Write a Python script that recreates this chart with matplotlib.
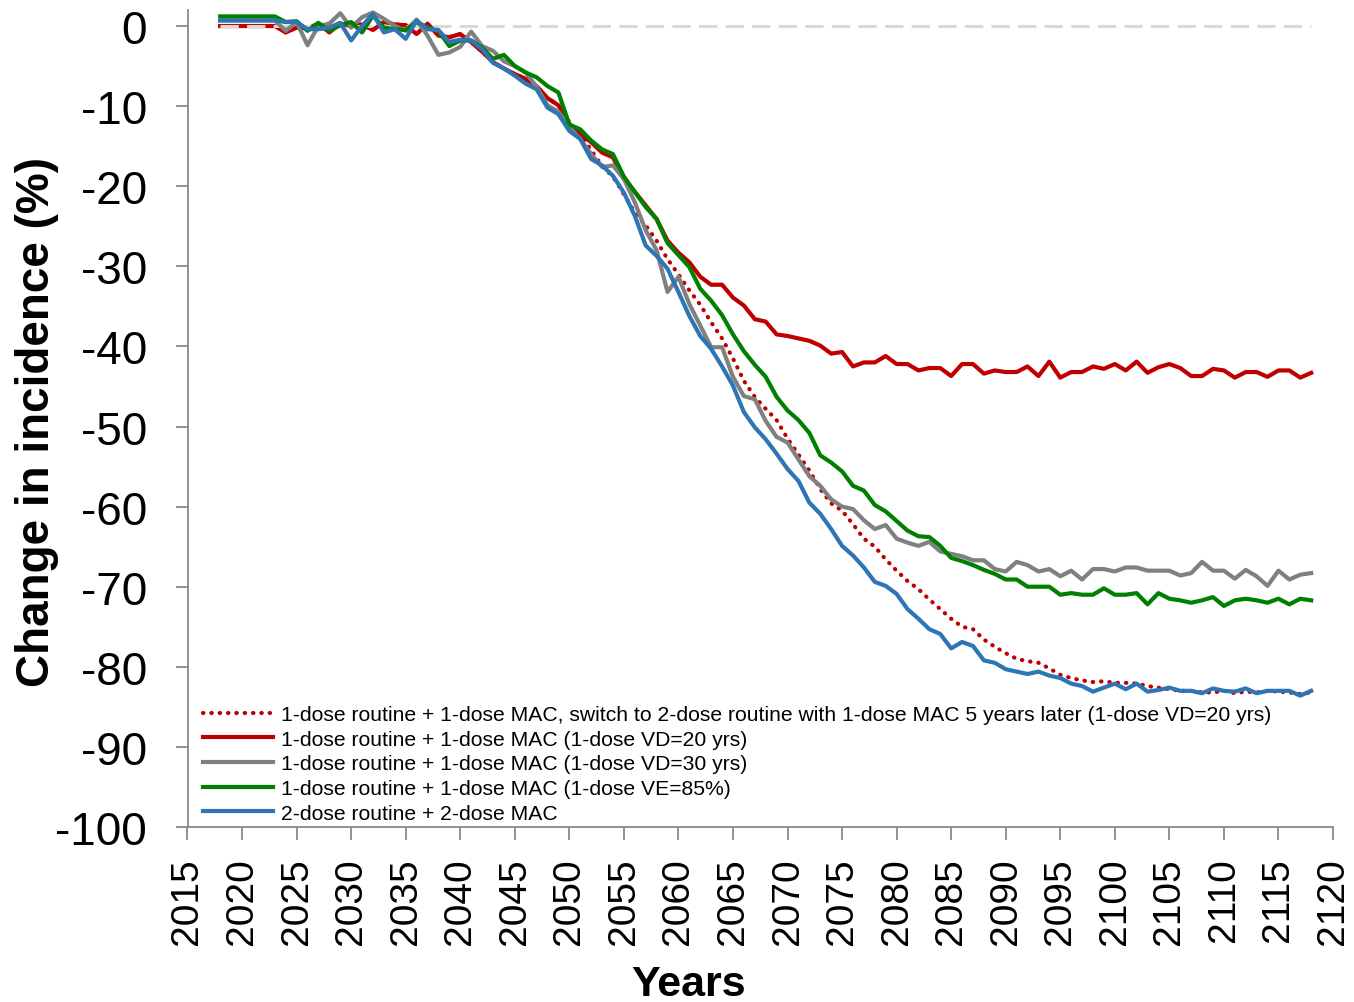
import matplotlib
matplotlib.use('Agg')
import matplotlib.pyplot as plt

plt.rcParams['axes.unicode_minus'] = False

years = list(range(2018, 2119))

# 1-dose routine + 1-dose MAC, switch to 2-dose 5 yrs later (dotted red)
switch_vals = [
    0.0, 0.0, 0.0, 0.0, 0.0, 0.0, -0.8, -0.2, -0.3, 0.3,
    -0.8, 0.3, 0.0, 0.2, -0.5, 0.5, 0.2, 0.1, -1.0, 0.3,
    -1.2, -1.4, -1.0, -2.0, -3.2, -4.5, -5.3, -6.0, -6.6, -7.5,
    -9.0, -9.9, -12.0, -13.5, -15.5, -17.5, -18.8, -21.0, -23.3, -24.9,
    -26.8, -29.1, -31.0, -33.0, -34.8, -37.0, -39.0, -41.5, -44.3, -46.3,
    -47.8, -49.2, -51.5, -53.5, -55.5, -57.8, -59.6, -60.5, -62.2, -64.0,
    -65.0, -66.6, -68.0, -69.3, -70.3, -71.6, -72.8, -74.0, -75.0, -75.3,
    -76.6, -77.5, -78.3, -79.0, -79.3, -79.5, -80.2, -81.0, -81.4, -81.7,
    -81.9, -81.8, -82.0, -82.0, -82.1, -82.4, -82.6, -82.8, -83.0, -83.0,
    -83.2, -83.2, -83.0, -83.3, -83.1, -83.2, -83.0, -83.1, -83.2, -83.4,
    -83.2]

# 1-dose VD=20 yrs (red)
vd20_vals = [
    0.0, 0.0, 0.0, 0.0, 0.0, 0.0, -0.8, -0.2, -0.3, 0.3,
    -0.8, 0.3, 0.0, 0.2, -0.5, 0.5, 0.2, 0.1, -1.0, 0.3,
    -1.2, -1.4, -1.0, -2.0, -3.2, -4.5, -5.3, -6.0, -6.6, -7.5,
    -9.0, -9.9, -12.2, -13.5, -14.5, -15.8, -16.4, -19.1, -20.7, -22.4,
    -24.1, -26.8, -28.3, -29.5, -31.3, -32.3, -32.3, -33.9, -34.9, -36.6,
    -36.9, -38.5, -38.7, -39.0, -39.3, -39.9, -40.9, -40.7, -42.5, -42.0,
    -42.0, -41.2, -42.2, -42.2, -43.0, -42.7, -42.7, -43.7, -42.2, -42.2,
    -43.4, -43.0, -43.2, -43.2, -42.5, -43.7, -41.9, -43.9, -43.2, -43.2,
    -42.5, -42.8, -42.2, -43.0, -41.9, -43.3, -42.6, -42.2, -42.7, -43.7,
    -43.7, -42.8, -43.0, -43.9, -43.2, -43.2, -43.8, -43.0, -43.0, -43.9,
    -43.3]

# 1-dose VD=30 yrs (gray)
vd30_vals = [
    0.7, 0.7, 0.7, 0.7, 0.7, 0.7, -0.6, 0.5, -2.4, 0.0,
    0.3, 1.6, -0.2, 1.1, 1.7, 0.9, 0.0, -0.6, 0.8, -1.2,
    -3.6, -3.3, -2.6, -0.7, -2.5, -3.1, -4.4, -5.0, -5.8, -7.6,
    -9.9, -10.7, -12.6, -14.1, -16.0, -17.6, -17.4, -19.1, -22.0, -25.5,
    -28.0, -33.2, -31.3, -34.7, -37.4, -40.1, -40.1, -43.8, -46.2, -46.6,
    -49.3, -51.3, -52.0, -54.1, -56.2, -57.4, -59.1, -60.0, -60.3, -61.7,
    -62.8, -62.3, -64.0, -64.5, -64.9, -64.4, -65.6, -65.9, -66.2, -66.7,
    -66.7, -67.8, -68.1, -66.9, -67.3, -68.1, -67.8, -68.7, -68.0, -69.1,
    -67.8, -67.8, -68.1, -67.6, -67.6, -68.0, -68.0, -68.0, -68.6, -68.3,
    -66.9, -68.0, -68.0, -69.0, -67.9, -68.7, -69.9, -68.0, -69.1, -68.5,
    -68.3]

# 1-dose VE=85% (green)
ve85_vals = [
    1.2, 1.2, 1.2, 1.2, 1.2, 1.2, 0.5, 0.6, -0.6, 0.4,
    -0.6, 0.1, 0.5, -0.8, 1.3, -0.2, -0.4, -0.5, 0.5, -0.2,
    -0.6, -2.5, -1.8, -1.8, -2.7, -4.1, -3.6, -5.0, -5.8, -6.4,
    -7.5, -8.3, -12.3, -12.9, -14.3, -15.4, -16.0, -18.8, -20.7, -22.6,
    -24.1, -27.1, -28.6, -30.1, -32.8, -34.3, -36.1, -38.5, -40.6, -42.3,
    -43.8, -46.3, -48.0, -49.2, -50.8, -53.6, -54.5, -55.6, -57.4, -58.0,
    -59.8, -60.6, -61.8, -63.0, -63.7, -63.8, -64.9, -66.4, -66.8, -67.3,
    -67.9, -68.4, -69.1, -69.1, -70.0, -70.0, -70.0, -71.0, -70.8, -71.0,
    -71.0, -70.2, -71.0, -71.0, -70.8, -72.2, -70.8, -71.5, -71.7, -72.0,
    -71.7, -71.3, -72.4, -71.7, -71.5, -71.7, -72.0, -71.5, -72.2, -71.5,
    -71.7]

# 2-dose routine + 2-dose MAC (blue)
two_dose_vals = [
    0.7, 0.7, 0.7, 0.7, 0.7, 0.7, 0.5, 0.5, -0.4, -0.4,
    -0.2, 0.4, -1.8, 0.0, 1.5, -0.8, -0.4, -1.6, 0.7, -0.4,
    -0.5, -2.0, -1.7, -1.8, -2.9, -4.6, -5.3, -6.2, -7.2, -7.9,
    -10.2, -11.0, -13.1, -14.1, -16.6, -17.4, -18.7, -20.8, -23.7, -27.4,
    -28.7, -30.3, -33.2, -36.2, -38.7, -40.3, -42.5, -44.9, -48.2, -50.1,
    -51.6, -53.4, -55.3, -56.8, -59.5, -60.9, -62.8, -64.9, -66.1, -67.6,
    -69.4, -69.9, -70.9, -72.8, -74.0, -75.3, -75.9, -77.7, -76.9, -77.4,
    -79.2, -79.5, -80.3, -80.6, -80.9, -80.6, -81.1, -81.4, -82.1, -82.4,
    -83.1, -82.6, -82.1, -82.8, -82.1, -83.1, -82.9, -82.6, -83.0, -83.0,
    -83.3, -82.7, -83.0, -83.1, -82.7, -83.3, -83.0, -83.0, -83.0, -83.6,
    -83.0]

zero_line = [0.0] * len(years)

labels = ['1-dose routine + 1-dose MAC, switch to 2-dose routine with 1-dose MAC 5 years later (1-dose VD=20 yrs)',
          '1-dose routine + 1-dose MAC (1-dose VD=20 yrs)',
          '1-dose routine + 1-dose MAC (1-dose VD=30 yrs)',
          '1-dose routine + 1-dose MAC (1-dose VE=85%)',
          '2-dose routine + 2-dose MAC']

regular = ['Liberation Sans', 'DejaVu Sans']

W, H = 1354, 1003
fig = plt.figure(figsize=(W / 100, H / 100), dpi=100)
ax = fig.add_axes([187.5 / W, 1 - 828 / H, (1333 - 187.5) / W, (828 - 11) / H])

ax.plot(years, switch_vals, color='#C00000', lw=3.0, linestyle=(0, (0.1, 1.9)),
        dash_capstyle='round', label=labels[0], zorder=2)
ax.plot(years, vd20_vals, color='#C00000', lw=3.0, label=labels[1], zorder=2)
ax.plot(years, zero_line, color='#D9D9D9', lw=2.2, dashes=(6, 2.7), zorder=2.5)
ax.plot(years, vd30_vals, color='#808080', lw=3.0, label=labels[2], zorder=3)
ax.plot(years, ve85_vals, color='#008000', lw=3.0, label=labels[3], zorder=3)
ax.plot(years, two_dose_vals, color='#2E75B6', lw=3.0, label=labels[4], zorder=3)

ax.set_xlim(2015, 2120)
ax.set_ylim(-100, 2)
ax.set_xticks(range(2015, 2121, 5))
ax.set_yticks(range(-100, 1, 10))

for s in ['top', 'right']:
    ax.spines[s].set_visible(False)
for s in ['left', 'bottom']:
    ax.spines[s].set_color('#898989')
    ax.spines[s].set_linewidth(1.3)
ax.tick_params(color='#898989', length=9, width=1.3)
ax.tick_params(axis='y', pad=20)
ax.tick_params(axis='x', pad=13)

for lab in ax.get_yticklabels():
    lab.set_family(regular)
    lab.set_fontsize(33)
for lab in ax.get_xticklabels():
    lab.set_family(regular)
    lab.set_fontsize(28)
    lab.set_rotation(90)

fig.text(37 / W, 1 - 422 / H, 'Change in incidence (%)', rotation=90, ha='center', va='center',
         family=regular, fontweight='bold', fontsize=33)
fig.text(689 / W, 1 - 996 / H, 'Years', ha='center', va='baseline',
         family=regular, fontweight='bold', fontsize=31)

ax.legend(loc='upper left', bbox_to_anchor=(203 / W, 1 - 706 / H), bbox_transform=fig.transFigure,
          frameon=False, prop={'family': regular, 'size': 15.2}, handlelength=3.3,
          handletextpad=0.4, labelspacing=0.27, borderpad=0, borderaxespad=0)

fig.savefig('out.png', dpi=100)
